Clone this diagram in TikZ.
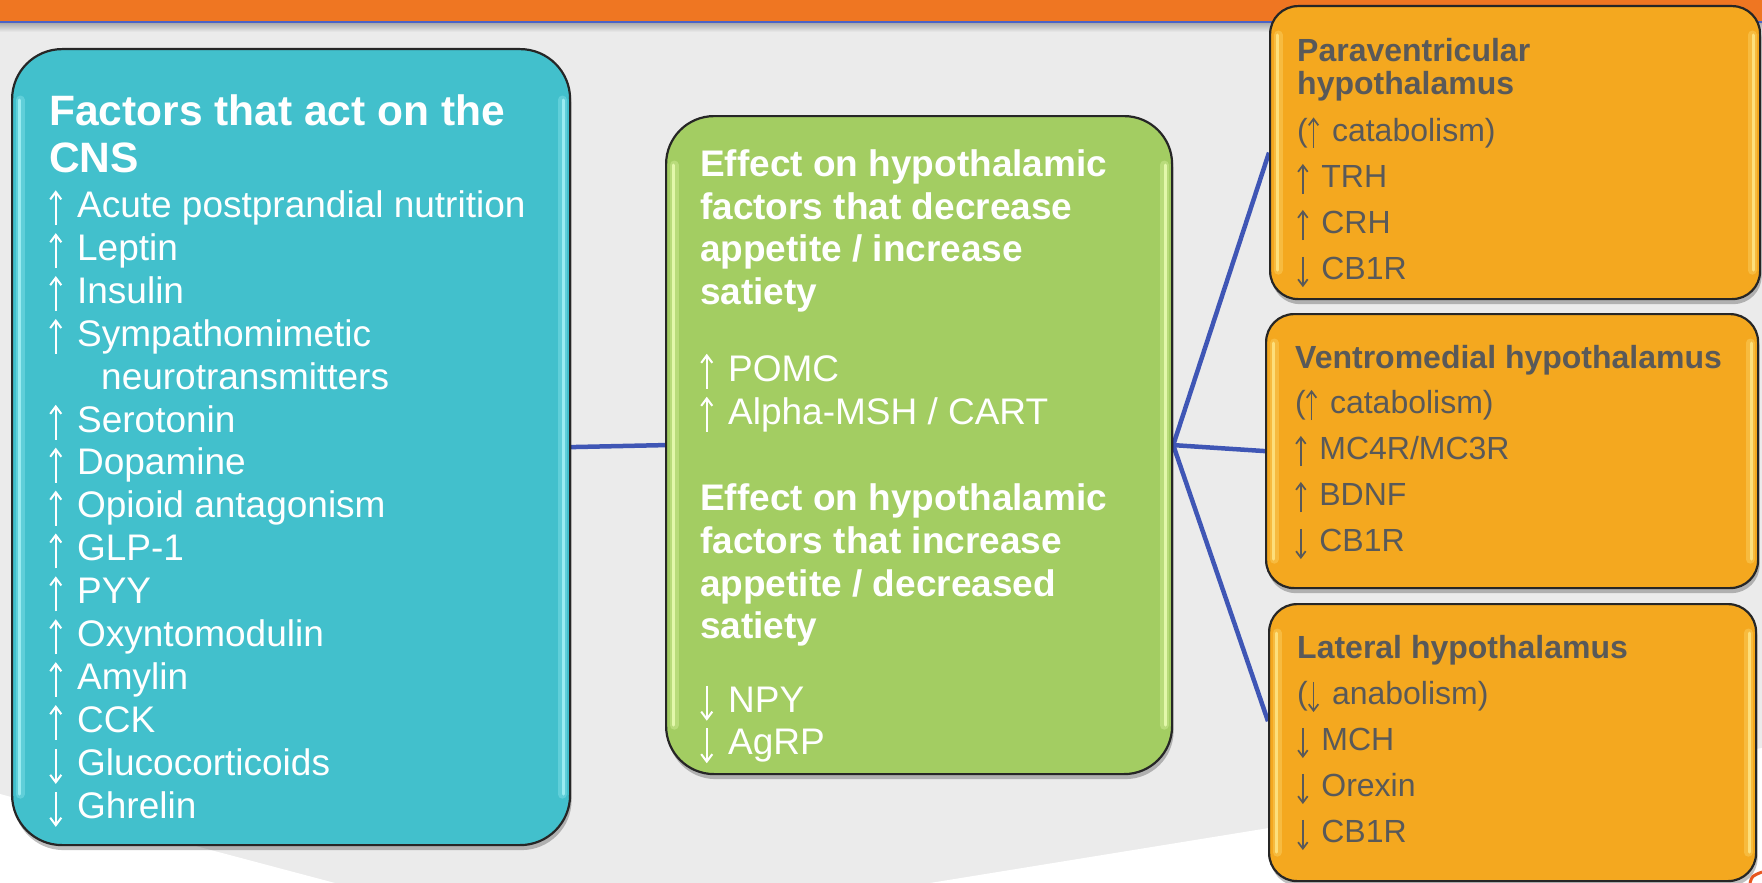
\documentclass[tikz,border=0pt]{standalone}
\usepackage{fontspec}
\setmainfont{Liberation Sans}
\usetikzlibrary{shadows}

\definecolor{barorange}{HTML}{EF7622}
\definecolor{barblue}{HTML}{4B63C6}
\definecolor{linkblue}{HTML}{3F56B5}
\definecolor{bggray}{HTML}{EBEBEB}
\definecolor{tealbox}{HTML}{42C0CC}
\definecolor{tealhi}{HTML}{A8F4F8}
\definecolor{greenbox}{HTML}{A3CD62}
\definecolor{greenhi}{HTML}{EEFFB8}
\definecolor{amberbox}{HTML}{F4A81F}
\definecolor{amberhi}{HTML}{FFE88A}
\definecolor{ambertext}{HTML}{595959}
\definecolor{cornerred}{HTML}{E8561E}

% thin arrows drawn to the size of the surrounding text
\def\arrowcol{white}
\newcommand\up{\tikz[baseline=0pt, x=1em, y=1em]{%
  \draw[draw=\arrowcol, line width=.055em] (0.2,-0.21) -- (0.2,0.66);
  \draw[draw=\arrowcol, line width=.055em, line join=miter] (0.05,0.49) -- (0.2,0.69) -- (0.35,0.49);}\hspace{0.4em}}
\newcommand\dn{\tikz[baseline=0pt, x=1em, y=1em]{%
  \draw[draw=\arrowcol, line width=.055em] (0.2,0.71) -- (0.2,-0.16);
  \draw[draw=\arrowcol, line width=.055em, line join=miter] (0.05,0.01) -- (0.2,-0.19) -- (0.35,0.01);}\hspace{0.4em}}

\pgfdeclarelayer{bg}
\pgfdeclarelayer{links}
\pgfsetlayers{bg,links,main}

\tikzset{
  panel/.style={draw=black!85, line width=2.2pt, rounded corners=#1, inner sep=0pt,
    anchor=north west,
    drop shadow={shadow xshift=1.5pt, shadow yshift=-5pt, opacity=.25, fill=black}},
  glosswide/.style={line width=9pt, line cap=round, opacity=.3},
  gloss/.style={line width=3pt, line cap=round, opacity=.8},
  link/.style={draw=linkblue, line width=4.5pt},
  whitetxt/.style={text=white, inner sep=0pt, anchor=base west,
    font=\fontsize{37}{44}\selectfont\def\arrowcol{white}},
  whitehead/.style={whitetxt, font=\fontsize{37}{44}\selectfont\bfseries},
  bighead/.style={whitetxt, font=\fontsize{42.5}{48}\selectfont\bfseries},
  graytxt/.style={text=ambertext, inner sep=0pt, anchor=base west,
    font=\fontsize{32}{38}\selectfont\def\arrowcol{ambertext}},
  grayhead/.style={graytxt, font=\fontsize{32}{38}\selectfont\bfseries},
}

\begin{document}
\begin{tikzpicture}[x=1pt, y=-1pt]
\useasboundingbox (0,0) rectangle (1762,883);

% backdrop: grey page, white swoosh at the bottom, title bar
\begin{pgfonlayer}{bg}
  \fill[bggray] (0,0) rectangle (1762,883);
  \fill[white] (0,794) -- (335,883) -- (0,883) -- cycle;
  \fill[white] (930,883) -- (1762,748) -- (1762,883) -- cycle;
  \shade[top color=black!30, bottom color=bggray] (0,24) rectangle (1762,32);
  \fill[barorange] (0,0) rectangle (1762,21);
  \fill[barblue] (0,21) rectangle (1762,23.5);
  \draw[cornerred, line width=3pt] (1750,883) .. controls (1752,876) .. (1762,872);
\end{pgfonlayer}

% boxes
\node[panel=50, fill=tealbox,  minimum width=558pt, minimum height=796pt] (cns) at (11,48) {};
\node[panel=48, fill=greenbox, minimum width=506pt, minimum height=658pt] (mid) at (665,115) {};
\node[panel=28, fill=amberbox, minimum width=490pt, minimum height=293pt] (pvh) at (1269,5) {};
\node[panel=28, fill=amberbox, minimum width=492pt, minimum height=274pt] (vmh) at (1265,313) {};
\node[panel=28, fill=amberbox, minimum width=487pt, minimum height=277pt] (lh)  at (1268,603) {};

% glossy edge highlights
\foreach \b/\c/\r in {cns/tealhi/52, mid/greenhi/50, pvh/amberhi/30, vmh/amberhi/30, lh/amberhi/30} {
  \draw[glosswide, draw=\c] ([xshift=9pt, yshift=-\r pt]\b.north west) -- ([xshift=9pt, yshift=\r pt]\b.south west);
  \draw[glosswide, draw=\c] ([xshift=-9pt, yshift=-\r pt]\b.north east) -- ([xshift=-9pt, yshift=\r pt]\b.south east);
  \draw[gloss, draw=\c] ([xshift=8pt, yshift=-\r pt]\b.north west) -- ([xshift=8pt, yshift=\r pt]\b.south west);
  \draw[gloss, draw=\c] ([xshift=-8pt, yshift=-\r pt]\b.north east) -- ([xshift=-8pt, yshift=\r pt]\b.south east);
}

% connectors
\begin{pgfonlayer}{links}
  \draw[link] (cns.east) -- (mid.west);
  \draw[link] (mid.east) -- (pvh.west);
  \draw[link] (mid.east) -- (vmh.west);
  \draw[link] (mid.east) -- (lh.175);
\end{pgfonlayer}

% factors acting on the CNS
\node[bighead] (cns-t1) at (49,125) {Factors that act on the};
\node[bighead] (cns-t2) at (49,172) {CNS};
\foreach \yy/\xx/\t [count=\i] in {
  217.5/49/{\up Acute postprandial nutrition},
  260.4/49/{\up Leptin},
  303.3/49/{\up Insulin},
  346.2/49/{\up Sympathomimetic},
  389.1/101/{neurotransmitters},
  432.0/49/{\up Serotonin},
  474.9/49/{\up Dopamine},
  517.8/49/{\up Opioid antagonism},
  560.7/49/{\up GLP-1},
  603.6/49/{\up PYY},
  646.5/49/{\up Oxyntomodulin},
  689.4/49/{\up Amylin},
  732.3/49/{\up CCK},
  775.2/49/{\dn Glucocorticoids},
  818.1/49/{\dn Ghrelin}}
  \node[whitetxt] (cns-\i) at (\xx,\yy) {\t};

% hypothalamic factors
\foreach \yy/\t [count=\i] in {
  176/{Effect on hypothalamic},
  219/{factors that decrease},
  261.5/{appetite / increase},
  304/{satiety},
  510/{Effect on hypothalamic},
  553/{factors that increase},
  596/{appetite / decreased},
  638.5/{satiety}}
  \node[whitehead] (mid-h\i) at (700,\yy) {\t};
\foreach \yy/\t [count=\i] in {
  381/{\up POMC},
  424/{\up Alpha-MSH / CART},
  712/{\dn NPY},
  754.5/{\dn AgRP}}
  \node[whitetxt] (mid-\i) at (700,\yy) {\t};

% paraventricular hypothalamus
\node[grayhead] (pvh-t1) at (1297,62) {Paraventricular};
\node[grayhead] (pvh-t2) at (1297,94) {hypothalamus};
\foreach \yy/\t [count=\i] in {141/{(\up catabolism)}, 187.5/{\up TRH}, 233.5/{\up CRH}, 279.6/{\dn CB1R}}
  \node[graytxt] (pvh-\i) at (1297,\yy) {\t};

% ventromedial hypothalamus
\node[grayhead] (vmh-t) at (1295,368) {Ventromedial hypothalamus};
\foreach \yy/\t [count=\i] in {413.5/{(\up catabolism)}, 459.5/{\up MC4R/MC3R}, 505.5/{\up BDNF}, 551.5/{\dn CB1R}}
  \node[graytxt] (vmh-\i) at (1295,\yy) {\t};

% lateral hypothalamus
\node[grayhead] (lh-t) at (1297,658) {Lateral hypothalamus};
\foreach \yy/\t [count=\i] in {704.5/{(\dn anabolism)}, 750.5/{\dn MCH}, 796.5/{\dn Orexin}, 842.5/{\dn CB1R}}
  \node[graytxt] (lh-\i) at (1297,\yy) {\t};
\end{tikzpicture}
\end{document}
